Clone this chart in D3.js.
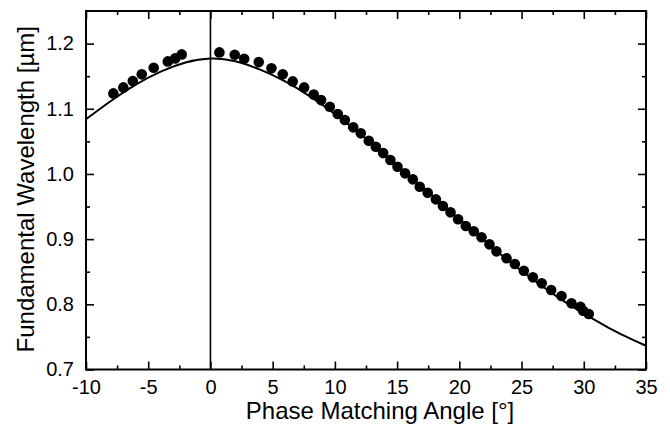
<!DOCTYPE html>
<html><head><meta charset="utf-8">
<script src="https://cdn.jsdelivr.net/npm/d3@7"></script>
<style>body{margin:0;background:#fff}svg{display:block}</style>
</head><body>
<script>
// Measured points (phase matching angle in degrees, fundamental wavelength in µm)
const measAngle = [-7.8,-7.0,-6.24,-5.52,-4.56,-3.43,-2.84,-2.31,
  0.72,1.95,2.71,3.88,4.90,5.81,6.61,7.53,8.30,8.89,9.59,10.23,10.80,11.47,12.08,12.72,13.29,13.88,14.46,15.03,15.64,16.26,
  16.82,17.46,18.12,18.68,19.29,19.90,20.52,21.16,21.78,22.42,22.98,23.79,24.46,25.18,25.91,26.62,27.38,28.21,29.01,29.73,29.95,30.40];
const measWave = [1.1236,1.1328,1.1425,1.1528,1.1629,1.1727,1.1773,1.1834,
  1.1865,1.1828,1.1767,1.1716,1.162,1.1528,1.142,1.1328,1.122,1.1133,1.103,1.0919,1.0827,1.0715,1.0623,1.051,1.0417,1.032,1.0213,1.011,1.0009,0.9917,
  0.9804,0.9712,0.961,0.9508,0.9411,0.9304,0.9201,0.912,0.9028,0.892,0.8813,0.8706,0.8618,0.8515,0.8414,0.8322,0.8219,0.8127,0.8015,0.7963,0.7902,0.7851];
// Theoretical curve
const curveAngle = [-10,-8,-6,-4,-2,0,2,4,6,8,10,12,14,16,18,20,22,24,26,28,30,32,34,35];
const curveWave  = [1.084,1.112,1.137,1.157,1.171,1.177,1.173,1.160,1.142,1.119,1.092,1.062,1.030,0.997,0.964,0.931,0.898,0.866,0.837,0.810,0.786,0.764,0.745,0.7365];
const xMajorTicks = [-10,-5,0,5,10,15,20,25,30,35];
const xMinorTicks = [-7.5,-2.5,2.5,7.5,12.5,17.5,22.5,27.5,32.5];
const yMajorTicks = [0.7,0.8,0.9,1.0,1.1,1.2];
const yMinorTicks = [0.75,0.85,0.95,1.05,1.15];
const xTitle = "Phase Matching Angle [°]";
const yTitle = "Fundamental Wavelength [µm]";

const W = 670, H = 426;
const L = 86, R = 646, T = 11, B = 369.5;
const svg = d3.select("body").append("svg").attr("width", W).attr("height", H);
const font = "Arial, 'Liberation Sans', sans-serif";

const x = d3.scaleLinear().domain([-10, 35]).range([L, R]);
const y = d3.scaleLinear().domain([0.7, 1.25]).range([B, T]);

function styleAxis(g) {
  g.select(".domain").remove();
  g.selectAll(".tick line").attr("stroke", "#000").attr("stroke-width", 1.6);
  g.selectAll("text").attr("font-family", font).attr("font-size", 20).attr("fill", "#000");
}
const fmtX = d => String(d);
const fmtY = d => d.toFixed(1);
// bottom
svg.append("g").attr("transform", `translate(0,${B})`)
  .call(d3.axisBottom(x).tickValues(xMajorTicks).tickSizeInner(-8).tickSizeOuter(0).tickPadding(10).tickFormat(fmtX))
  .call(styleAxis);
svg.append("g").attr("transform", `translate(0,${B})`)
  .call(d3.axisBottom(x).tickValues(xMinorTicks).tickSizeInner(-4).tickSizeOuter(0).tickFormat(""))
  .call(styleAxis);
// top
svg.append("g").attr("transform", `translate(0,${T})`)
  .call(d3.axisTop(x).tickValues(xMajorTicks).tickSizeInner(-8).tickSizeOuter(0).tickFormat(""))
  .call(styleAxis);
svg.append("g").attr("transform", `translate(0,${T})`)
  .call(d3.axisTop(x).tickValues(xMinorTicks).tickSizeInner(-4).tickSizeOuter(0).tickFormat(""))
  .call(styleAxis);
// left
svg.append("g").attr("transform", `translate(${L},0)`)
  .call(d3.axisLeft(y).tickValues(yMajorTicks).tickSizeInner(-8).tickSizeOuter(0).tickPadding(12).tickFormat(fmtY))
  .call(styleAxis);
svg.append("g").attr("transform", `translate(${L},0)`)
  .call(d3.axisLeft(y).tickValues(yMinorTicks).tickSizeInner(-4).tickSizeOuter(0).tickFormat(""))
  .call(styleAxis);
// right
svg.append("g").attr("transform", `translate(${R},0)`)
  .call(d3.axisRight(y).tickValues(yMajorTicks).tickSizeInner(-8).tickSizeOuter(0).tickFormat(""))
  .call(styleAxis);
svg.append("g").attr("transform", `translate(${R},0)`)
  .call(d3.axisRight(y).tickValues(yMinorTicks).tickSizeInner(-4).tickSizeOuter(0).tickFormat(""))
  .call(styleAxis);

// clip
svg.append("clipPath").attr("id", "clip").append("rect")
  .attr("x", L).attr("y", T).attr("width", R - L).attr("height", B - T);

// zero line
svg.append("line").attr("x1", x(0)).attr("x2", x(0)).attr("y1", T).attr("y2", B)
  .attr("stroke", "#000").attr("stroke-width", 1.6);

// curve
const curveData = curveAngle.map((a, i) => [a, curveWave[i]]);
svg.append("path").datum(curveData)
  .attr("clip-path", "url(#clip)")
  .attr("fill", "none").attr("stroke", "#000").attr("stroke-width", 2)
  .attr("d", d3.line().x(d => x(d[0])).y(d => y(d[1])).curve(d3.curveNatural));

// points
const pts = measAngle.map((a, i) => [a, measWave[i]]);
svg.append("g").selectAll("circle").data(pts).join("circle")
  .attr("cx", d => x(d[0])).attr("cy", d => y(d[1])).attr("r", 5.3).attr("fill", "#000");

// frame
svg.append("rect").attr("x", L).attr("y", T).attr("width", R - L).attr("height", B - T)
  .attr("fill", "none").attr("stroke", "#000").attr("stroke-width", 2);

// titles
svg.append("text").attr("x", 380).attr("y", 419).attr("text-anchor", "middle")
  .attr("font-family", font).attr("font-size", 24).text(xTitle);
svg.append("text").attr("transform", `translate(34,${(T + B) / 2 - 1}) rotate(-90)`).attr("text-anchor", "middle")
  .attr("font-family", font).attr("font-size", 24).text(yTitle);
</script>
</body></html>
